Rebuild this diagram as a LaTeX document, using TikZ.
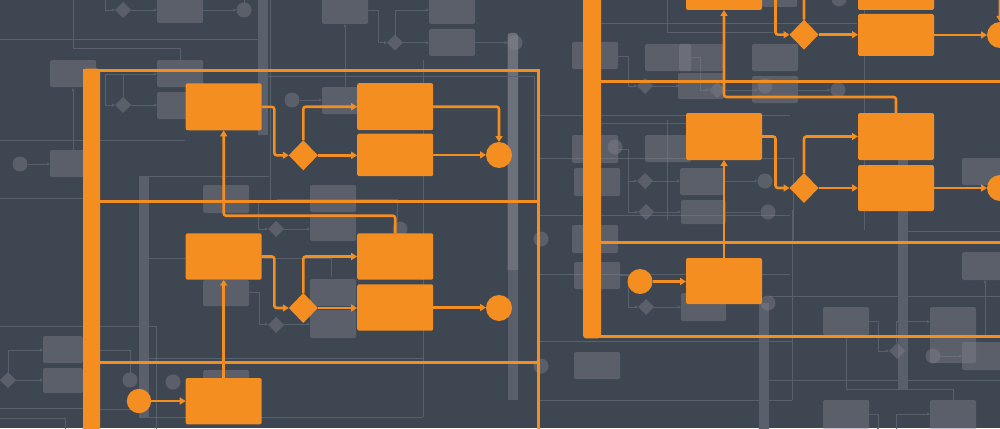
\documentclass[tikz,border=0pt]{standalone}
\usetikzlibrary{shapes.geometric,arrows.meta}
\definecolor{bgc}{HTML}{3D4651}
\definecolor{org}{HTML}{F58E21}
\definecolor{gfillc}{HTML}{82828C}
\definecolor{glinec}{HTML}{58606C}
\definecolor{gbarc}{HTML}{5A606B}
\definecolor{gbarl}{HTML}{6C707A}
\tikzset{
  obox/.style={fill=org, rounded corners=2pt, inner sep=0pt, outer sep=0pt, minimum width=76pt, minimum height=47pt},
  odia/.style={diamond, fill=org, inner sep=0pt, outer sep=0pt, minimum width=29pt, minimum height=30pt},
  ocirc/.style={circle, fill=org, inner sep=0pt, outer sep=0pt, minimum size=26pt},
  oline/.style={draw=org, line width=2.6pt, rounded corners=2.5pt},
  oarr/.style={oline, -{Triangle[length=6pt,width=7pt]}},
  opool/.style={draw=org, line width=3pt},
  gbx/.style={fill=gfillc, fill opacity=0.43, rounded corners=1.5pt},
  gl/.style={draw=glinec, line width=0.9pt},
  garr/.style={gl, -{Triangle[length=3pt,width=3pt]}},
  gdia/.pic={\fill[gfillc, fill opacity=0.43] (-8,0)--(0,-8)--(8,0)--(0,8)--cycle;},
  gcir/.pic={\fill[gfillc, fill opacity=0.43] (0,0) circle[radius=7.5pt];}
}
\begin{document}
\begin{tikzpicture}[x=1pt,y=-1pt]
\useasboundingbox (0,0) rectangle (1000,428);
\fill[bgc] (0,0) rectangle (1000,428);
\begin{scope}
\clip (0,0) rectangle (1000,428);
% ---------- background bars ----------
\fill[gbarc] (258,-2) rectangle (268,135);
\fill[gbarl, rounded corners=3pt] (507.5,33) rectangle (518,273);
\fill[gbarc] (507.5,270) rectangle (518,400);
\fill[gbarc] (139,176) rectangle (149,418);
\fill[gbarc] (759,303) rectangle (769,432);
\fill[gbarc] (898,158) rectangle (908,390);
% ---------- background thin lines ----------
\draw[gl] (0,39.3)--(268,39.3);
\draw[gl] (73,-2)--(73,48)--(180,48)--(180,60);
\draw[garr] (105,-2)--(105,10)--(115,10);
\draw[garr] (131,10)--(157,10);
\draw[garr] (203,10)--(236.5,10);
\draw[gl] (244,-2)--(244,3);
\draw[gl] (270,-2)--(270,200);
\draw[garr] (345,87)--(345,24);
\draw[garr] (368,10)--(378,10)--(378,42.7)--(387,42.7);
\draw[garr] (395,34.7)--(395,10)--(429,10);
\draw[garr] (403,42.7)--(429,42.7);
\draw[garr] (475,42.7)--(507.5,42.7);
\draw[garr] (73,150)--(73,88);
\draw[garr] (28,164)--(50,164);
\draw[gl] (0,140)--(185,140);
\draw[gl] (0,198)--(83,198);
\draw[garr] (105,74)--(105,105)--(115,105);
\draw[garr] (105,74)--(157,74);
\draw[gl] (123,74)--(123,97);
\draw[garr] (131,105)--(157,105);
\draw[garr] (299.5,100)--(322,100);
\draw[gl] (268,76)--(534,76)--(534,200);
\draw[gl] (0,326.7)--(83,326.7);
\draw[garr] (8,372)--(8,350)--(43,350);
\draw[garr] (16,380)--(43,380);
\draw[gl] (0,408.3)--(83,408.3);
\draw[gl] (0,418)--(65,418)--(65,430);
\draw[gl] (149,176.7)--(269,176.7);
\draw[gl] (277,199)--(397,199)--(397,221);
\draw[garr] (258,203)--(258,229)--(268,229);
\draw[garr] (284,229)--(310,229);
\draw[garr] (249,292)--(259,292)--(259,324)--(268,324);
\draw[garr] (284,324)--(310,324);
\draw[gl] (149,258)--(331,258)--(331,277);
\draw[gl] (149,358)--(423,358);
\draw[gl] (149,417)--(423,417);
\draw[gl] (423,60)--(423,417);
\draw[gl] (100,350)--(130,350)--(130,372.5);
\draw[gl] (100,326.7)--(156,326.7)--(156,430);
\draw[gl] (100,409)--(139,409);
% right side thin lines
\draw[gl] (600,23.3)--(857,23.3);
\draw[gl] (667.7,-2)--(667.7,32.3)--(773,32.3);
\draw[gl] (864,0)--(864,230);
\draw[gl] (540,115)--(790,115);
\draw[gl] (600,123)--(686,123);
\draw[gl] (540,158)--(793,158)--(793,240);
\draw[gl] (667.7,120)--(667.7,220);
\draw[garr] (618,56)--(628,56)--(628,86)--(637,86);
\draw[garr] (653,86)--(679,86);
\draw[garr] (691,57)--(700,57)--(700,90)--(709,90);
\draw[garr] (725,90)--(757.5,90);
\draw[garr] (798,90)--(830.5,90);
\draw[garr] (618,149)--(628,149)--(628,181)--(637,181);
\draw[garr] (653,181)--(680,181);
\draw[garr] (628,181)--(628,212)--(638,212);
\draw[garr] (654,212)--(681,212);
\draw[garr] (725,181)--(757.5,181);
\draw[gl] (726,212)--(760,212);
\draw[garr] (620,275)--(628,275)--(628,307)--(638,307);
\draw[garr] (654,307)--(681,307);
\draw[gl] (540,274)--(790,274);
\draw[gl] (540,215)--(790,215);
\draw[gl] (540,341.7)--(792,341.7);
\draw[gl] (540,400)--(792,400);
\draw[gl] (792,210)--(792,400);
\draw[gl] (769,380)--(1000,380);
\draw[gl] (769,296.7)--(1000,296.7);
\draw[gl] (907,231)--(1000,231);
\draw[garr] (869,321)--(878,321)--(878,351)--(889,351);
\draw[garr] (896,343)--(896,321.7)--(930,321.7);
\draw[garr] (940.5,356)--(962,356);
\draw[gl] (846,335)--(846,389)--(953,389)--(953,400);
\draw[garr] (985,337)--(985,280);
\draw[garr] (869,414)--(878,414)--(878,430);
\draw[garr] (896,430)--(896,414)--(930,414);
% ---------- background boxes ----------
\foreach \a/\b/\c/\d in {
 157/-3/203/23, 322/-3/368/24, 429/-3/475/24, 429/29/475/56,
 50/60/96/87, 157/60/203/87, 157/92/203/119, 50/150/96/177, 322/87/368/114,
 203/185/249/213, 310/185/356/212, 310/214/356/241,
 203/280/249/306, 310/279/356/306, 310/310/356/338, 203/370/249/395,
 43/336/83/363, 43/368/83/393,
 572/42/618/69, 572/135/618/163, 574/168/620/196, 572/225/618/253, 574/262/620/289, 574/352/620/379,
 645/44/691/71, 679/44/723/71, 752/44/798/71, 678/73/724/99, 752/76/798/103,
 645/135/691/162, 680/168/725/195, 681/200/726/224, 681/293/726/321,
 823/307/869/335, 930/307/976/363, 962/342/1003/370, 962/252/1003/280, 962/158/1003/185,
 823/400/869/432, 930/400/976/432, 762/-3/797/7}
 {\fill[gbx] (\a,\b) rectangle (\c,\d);}
% ---------- background diamonds and circles ----------
\foreach \p/\q in {123/10, 395/42.7, 123/105, 276/229, 276/325, 8/380,
 645/86, 717/90, 645/181, 646/212, 646/307, 897/351}
 {\pic at (\p,\q) {gdia};}
\foreach \p/\q in {244/10, 515/42.7, 20/164, 292/100, 400/229, 130/380, 173/382,
 541/239, 541/366, 615/147, 765/86, 838/90, 765/181, 768/212, 933/356, 768/303, 839/-1}
 {\pic at (\p,\q) {gcir};}
% ---------- left pool ----------
\fill[org, rounded corners=3pt] (83,68.5) rectangle (100,440);
\draw[opool] (83,70)--(538,70)--(538,440);
\draw[opool] (100,201.3)--(538,201.3);
\draw[opool] (100,362.7)--(538,362.7);
% ---------- right pool ----------
\fill[org, rounded corners=3pt] (583,-10) rectangle (601,338.3);
\draw[opool] (601,81.5)--(1010,81.5);
\draw[opool] (601,242.7)--(1010,242.7);
\draw[opool] (590,336.8)--(1010,336.8);
% ---------- left pool nodes ----------
\node[obox] (lA) at (223.7,106.8) {};
\node[obox] (lB) at (395.2,106.7) {};
\node[obox, minimum height=42.5pt] (lC) at (395.2,154.9) {};
\node[odia] (ld1) at (303.3,155.3) {};
\node[ocirc] (le1) at (499,155) {};
\node[obox, minimum height=46.4pt] (lD) at (223.7,256.5) {};
\node[obox, minimum height=46.4pt] (lE) at (395.2,256.5) {};
\node[obox, minimum height=46.4pt] (lF) at (395.2,307.5) {};
\node[odia] (ld2) at (303.3,308) {};
\node[ocirc] (le2) at (499,308) {};
\node[ocirc, minimum size=24.4pt] (ls) at (139,401) {};
\node[obox, minimum height=46.3pt] (lG) at (223.7,401.2) {};
% left connectors
\draw[oarr] (lA.east) -- ++(12.6,0) |- (ld1.west);
\draw[oarr] (ld1.north) |- (lB.west);
\draw[oarr] (ld1.east) -- (lC.west |- ld1.east);
\draw[oarr] (lB.east) -| (le1.north);
\draw[oarr] (lC.east) -- (le1.west |- lC.east);
\draw[oarr] (lE.north) -- (lE.north |- 0,215.7) -| (lA.south);
\draw[oarr] (lD.east) -- ++(12.6,0) |- (ld2.west);
\draw[oarr] (ld2.north) |- (lE.west);
\draw[oarr] (ld2.east) -- (lF.west |- ld2.east);
\draw[oarr] (lF.east) -- (le2.west |- lF.east);
\draw[oarr] (ls.east) -- (lG.west |- ls.east);
\draw[oarr] (lG.north) -- (lD.south);
% ---------- right pool nodes ----------
\node[obox] (rA1) at (724,-13.5) {};
\node[obox] (rB1) at (896,-13.5) {};
\node[obox, minimum height=42pt] (rC1) at (896,35) {};
\node[odia] (rd1) at (804,34.7) {};
\node[ocirc] (re1) at (1000,35) {};
\node[obox] (rA2) at (724,136.5) {};
\node[obox] (rB2) at (896,136.5) {};
\node[obox, minimum height=46pt] (rC2) at (896,188) {};
\node[odia] (rd2) at (804,188) {};
\node[ocirc] (re2) at (1000,188) {};
\node[ocirc, minimum size=25pt] (rs) at (640,281.5) {};
\node[obox, minimum height=46pt] (rG) at (724,281) {};
% right connectors
\draw[oarr] (rA1.east) -- ++(13.5,0) |- (rd1.west);
\draw[oarr] (rd1.north) |- (rB1.west);
\draw[oarr] (rd1.east) -- (rC1.west |- rd1.east);
\draw[oarr] (rB1.east) -| (re1.north);
\draw[oarr] (rC1.east) -- (re1.west |- rC1.east);
\draw[oarr] (rB2.north) -- (rB2.north |- 0,97) -| (rA1.south);
\draw[oarr] (rA2.east) -- ++(13.5,0) |- (rd2.west);
\draw[oarr] (rd2.north) |- (rB2.west);
\draw[oarr] (rd2.east) -- (rC2.west |- rd2.east);
\draw[oarr] (rC2.east) -- (re2.west |- rC2.east);
\draw[oarr] (rs.east) -- (rG.west |- rs.east);
\draw[oarr] (rG.north) -- (rA2.south);
\end{scope}
\end{tikzpicture}
\end{document}
